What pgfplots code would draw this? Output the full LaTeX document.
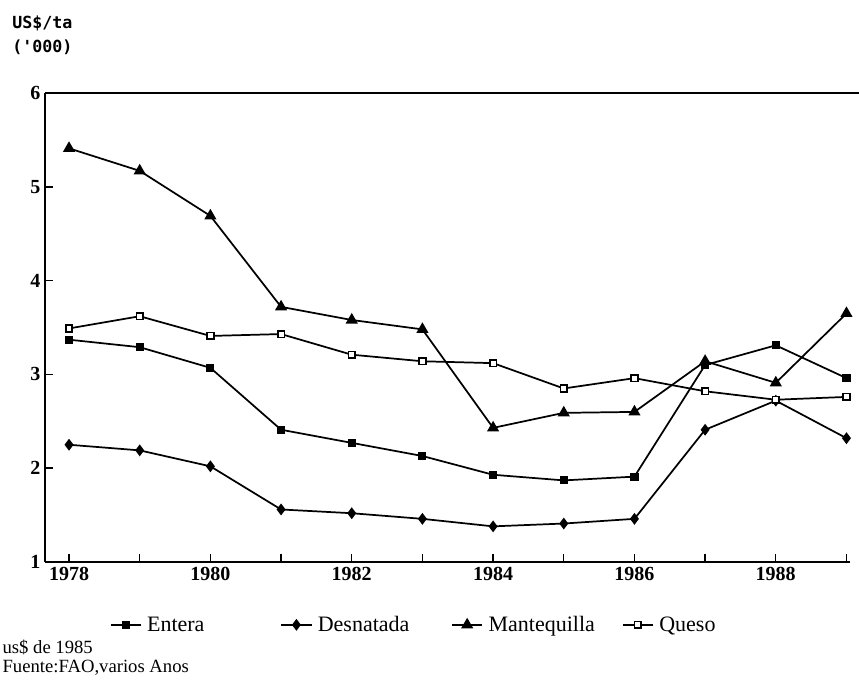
\documentclass[border=0pt]{standalone}
\usepackage{fontspec}
\setmainfont{Liberation Serif}
\setmonofont{DejaVu Sans Mono}
\usepackage{pgfplots}
\pgfplotsset{compat=1.18}
\begin{document}
\begin{tikzpicture}
\useasboundingbox (-33.75pt,-91.5pt) rectangle (610.5pt,421.5pt);
\begin{axis}[
  at={(0,0)}, anchor=south west,
  scale only axis, width=603.75pt, height=351.75pt,
  xmin=1977.66, xmax=1989.05, ymin=1, ymax=6,
  axis lines*=left,
  axis line style={line width=1.3pt},
  clip=false,
  xtick={1978,1979,...,1989},
  xticklabels={1978,,1980,,1982,,1984,,1986,,1988,},
  ytick={1,2,3,4,5,6},
  tick align=inside,
  major tick length=6pt,
  tick style={line width=1.1pt, black},
  /pgf/number format/assume math mode=true,
  ticklabel style={font=\fontsize{15}{17}\selectfont\bfseries},
  every axis plot/.append style={line width=1.3pt, black},
  legend columns=4,
  legend style={draw=none, fill=none, at={(axis description cs:0.075,-0.134)}, anchor=west,
    font=\fontsize{16.5}{18}\selectfont,
    nodes={text width=95pt, inner sep=1pt, anchor=west},
    /tikz/every odd column/.append style={column sep=3pt},
    /tikz/every even column/.append style={column sep=4pt}},
  legend image code/.code={\draw[mark repeat=2,mark phase=2] plot coordinates {(0cm,0cm) (0.4cm,0cm) (0.8cm,0cm)};},
]
\addplot[mark=square*, mark size=2.4pt] coordinates {
(1978,3.37) (1979,3.29) (1980,3.07) (1981,2.41) (1982,2.27) (1983,2.13)
(1984,1.93) (1985,1.87) (1986,1.91) (1987,3.10) (1988,3.31) (1989,2.96)};
\addlegendentry{Entera}
\addplot[mark=diamond*, mark size=3.4pt] coordinates {
(1978,2.25) (1979,2.19) (1980,2.02) (1981,1.56) (1982,1.52) (1983,1.46)
(1984,1.38) (1985,1.41) (1986,1.46) (1987,2.41) (1988,2.72) (1989,2.32)};
\addlegendentry{Desnatada}
\addplot[mark=triangle*, mark size=4pt] coordinates {
(1978,5.41) (1979,5.17) (1980,4.69) (1981,3.72) (1982,3.58) (1983,3.48)
(1984,2.43) (1985,2.59) (1986,2.60) (1987,3.14) (1988,2.91) (1989,3.65)};
\addlegendentry{Mantequilla}
\addplot[mark=square*, mark size=2.5pt, mark options={fill=white, line width=1.3pt}] coordinates {
(1978,3.49) (1979,3.62) (1980,3.41) (1981,3.43) (1982,3.21) (1983,3.14)
(1984,3.12) (1985,2.85) (1986,2.96) (1987,2.82) (1988,2.73) (1989,2.76)};
\addlegendentry{Queso}
\draw[line width=1.3pt] (rel axis cs:0,1) -- ([xshift=8pt]rel axis cs:1,1);
\end{axis}
\node[anchor=west, inner sep=0pt, font=\ttfamily\bfseries\fontsize{12.5}{14}\selectfont] at (-24.75pt,404pt) {US\$/ta};
\node[anchor=west, inner sep=0pt, font=\ttfamily\bfseries\fontsize{12.5}{14}\selectfont] at (-24.75pt,386pt) {('000)};
\node[anchor=base west, inner sep=0pt, font=\fontsize{14}{16}\selectfont] at (-32pt,-69pt) {us\$ de 1985};
\node[anchor=base west, inner sep=0pt, font=\fontsize{14}{16}\selectfont] at (-32pt,-83pt) {Fuente:FAO,varios Anos};
\end{tikzpicture}
\end{document}
